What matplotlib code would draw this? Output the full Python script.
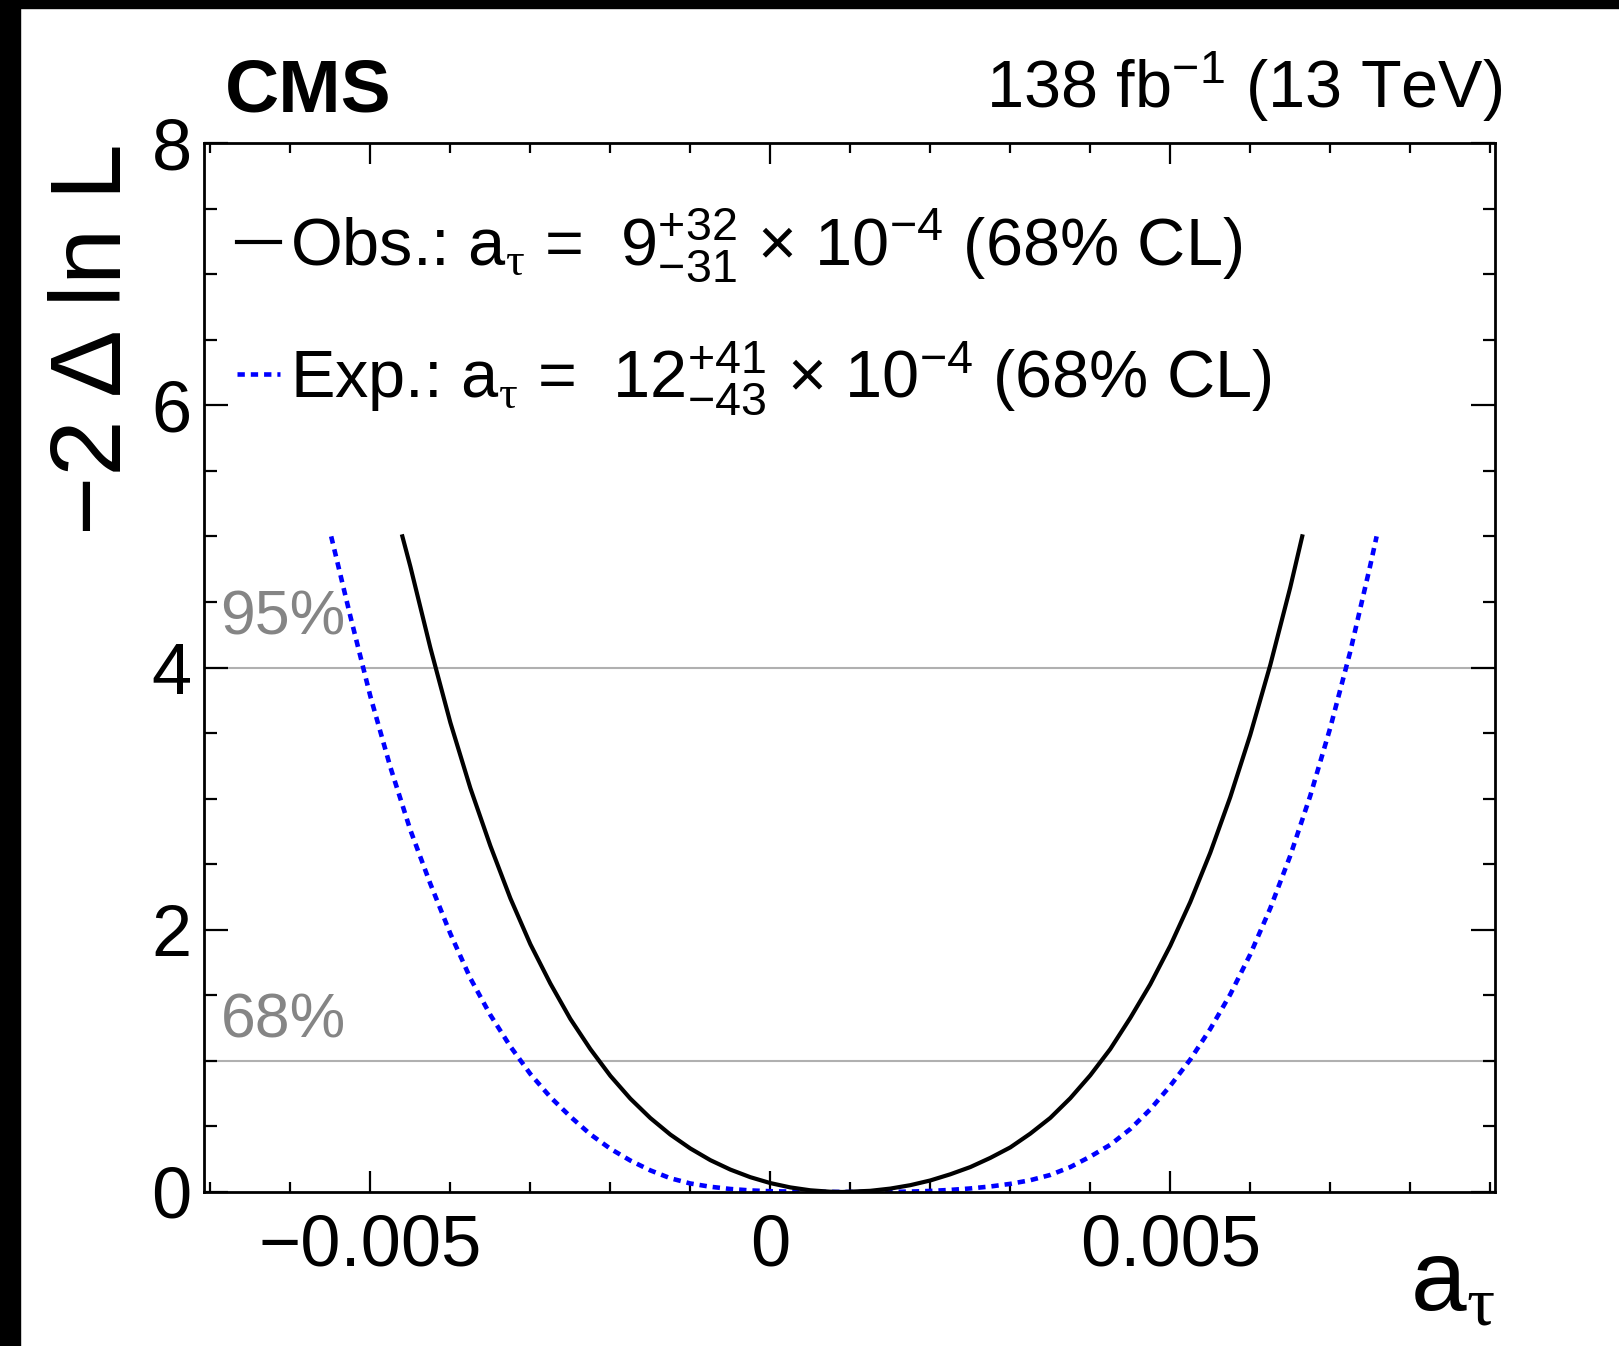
import numpy as np
import matplotlib
matplotlib.use("Agg")
import matplotlib.pyplot as plt
from matplotlib.patches import Rectangle
from matplotlib.ticker import MultipleLocator

plt.rcParams["font.family"] = ["Liberation Sans", "DejaVu Sans"]
plt.rcParams["mathtext.fontset"] = "custom"
plt.rcParams["mathtext.rm"] = "Liberation Sans"
plt.rcParams["mathtext.it"] = "Liberation Sans:italic"
plt.rcParams["mathtext.bf"] = "Liberation Sans:bold"
plt.rcParams["mathtext.sf"] = "Liberation Serif"

obs_x = [-0.0046, -0.0045, -0.00425, -0.004, -0.00375, -0.0035, -0.00325,
         -0.003, -0.00275, -0.0025, -0.00225, -0.002, -0.00175, -0.0015,
         -0.00125, -0.001, -0.00075, -0.0005, -0.00025, 0.0, 0.00025, 0.0005,
         0.00075, 0.0009, 0.00125, 0.0015, 0.00175, 0.002, 0.00225, 0.0025,
         0.00275, 0.003, 0.00325, 0.0035, 0.00375, 0.004, 0.00425, 0.0045,
         0.00475, 0.005, 0.00525, 0.0055, 0.00575, 0.006, 0.00625, 0.0065,
         0.00665]
obs_y = [5.0, 4.77, 4.15, 3.58, 3.08, 2.64, 2.24,
         1.89, 1.59, 1.32, 1.09, 0.886, 0.712, 0.564,
         0.438, 0.332, 0.243, 0.171, 0.113, 0.068, 0.035, 0.013,
         0.002, 0.0, 0.009, 0.026, 0.052, 0.088, 0.135, 0.19,
         0.26, 0.34, 0.445, 0.565, 0.715, 0.89, 1.09, 1.327,
         1.584, 1.878, 2.211, 2.587, 3.011, 3.486, 4.018, 4.61,
         5.0]

# expected scan
exp_x = [-0.00549, -0.00525, -0.005, -0.00475, -0.0045, -0.00425, -0.004,
         -0.00375, -0.0035, -0.00325, -0.003, -0.00275, -0.0025, -0.00225,
         -0.002, -0.00175, -0.0015, -0.00125, -0.001, -0.00075, -0.0005,
         -0.00025, 0.0, 0.0005, 0.0012, 0.0015, 0.00175, 0.002, 0.00225,
         0.0025, 0.00275, 0.003, 0.00325, 0.0035, 0.00375, 0.004, 0.00425,
         0.0045, 0.00475, 0.005, 0.00525, 0.0055, 0.00575, 0.006, 0.00625,
         0.0065, 0.00675, 0.007, 0.00725, 0.0075, 0.00758]
exp_y = [5.0, 4.39, 3.78, 3.24, 2.76, 2.35, 1.97,
         1.63, 1.35, 1.11, 0.90, 0.724, 0.575, 0.44,
         0.33, 0.24, 0.165, 0.105, 0.065, 0.04, 0.023,
         0.012, 0.006, 0.001, 0.0, 0.001, 0.003, 0.008, 0.016,
         0.027, 0.042, 0.062, 0.09, 0.13, 0.19, 0.27, 0.36,
         0.48, 0.63, 0.81, 1.01, 1.243, 1.507, 1.812, 2.163,
         2.564, 3.021, 3.539, 4.12, 4.777, 5.0]

cl_levels = [1, 4]
cl_names = ["68%", "95%"]
cl_text_y = [1.18, 4.25]

x_ticks = [-0.005, 0, 0.005]
x_ticklabels = ["\u22120.005", "0", "0.005"]
y_ticks = [0, 2, 4, 6, 8]

W, H = 1619, 1346
fig = plt.figure(figsize=(W / 100, H / 100), dpi=100)
ax = fig.add_axes([204 / W, 1 - 1192 / H, (1495 - 204) / W, (1192 - 143) / H])

# black strips at the left and top edge of the picture
fig.patches.append(Rectangle((0, 0), 20 / W, 1, transform=fig.transFigure,
                             color="black", zorder=0))
fig.patches.append(Rectangle((0, 1 - 8 / H), 1, 8 / H, transform=fig.transFigure,
                             color="black", zorder=0))

for lev, name, ty in zip(cl_levels, cl_names, cl_text_y):
    ax.axhline(lev, color="#b0b0b0", lw=1.5, zorder=1)
    ax.text(-0.006875, ty, name, color="#858585", fontsize=45,
            ha="left", va="baseline")

ax.plot(obs_x, obs_y, color="black", lw=3.0, zorder=3,
        label=r"Obs.: a$_{\mathsf{\tau}}$ =  $9^{+32}_{-31}$ $\times$ 10$^{-4}$ (68% CL)")
ax.plot(exp_x, exp_y, color="blue", lw=3.3, dashes=(1.6, 1.3),
        dash_capstyle="butt", zorder=2,
        label=r"Exp.: a$_{\mathsf{\tau}}$ =  $12^{+41}_{-43}$ $\times$ 10$^{-4}$ (68% CL)")

ax.set_xlim(-0.00708, 0.00906)
ax.set_ylim(0, 8)
ax.set_xticks(x_ticks, x_ticklabels)
ax.set_yticks(y_ticks)
ax.xaxis.set_minor_locator(MultipleLocator(0.001))
ax.yaxis.set_minor_locator(MultipleLocator(0.5))

for s in ax.spines.values():
    s.set_linewidth(2.0)
ax.tick_params(axis="both", which="both", direction="in", top=True, right=True,
               labelsize=52, width=1.6)
ax.tick_params(axis="x", which="major", length=15, pad=15.5)
ax.tick_params(axis="x", which="minor", length=7.5)
ax.tick_params(axis="y", which="major", length=17, pad=9)
ax.tick_params(axis="y", which="minor", length=9)

ax.set_ylabel("\u22122 \u0394 ln L", fontsize=73, loc="top", labelpad=7)
ax.set_xlabel(r"a$_{\mathsf{\tau}}$", fontsize=72)
ax.xaxis.label.set_ha("right")
ax.xaxis.label.set_va("baseline")
ax.xaxis.set_label_coords(1.0, -0.1134)

leg = ax.legend(loc="upper left", bbox_to_anchor=(0.005, 0.965), frameon=False,
                fontsize=48, handlelength=0.65, handletextpad=0.15,
                labelspacing=0.82, borderaxespad=0)

fig.text(225 / W, 1 - 112 / H, "CMS", fontsize=54, fontweight="bold",
         ha="left", va="baseline")
fig.text(1502 / W, 1 - 108 / H, r"138 fb$^{-1}$ (13 TeV)", fontsize=48,
         ha="right", va="baseline")

fig.savefig("out.png", dpi=100)
